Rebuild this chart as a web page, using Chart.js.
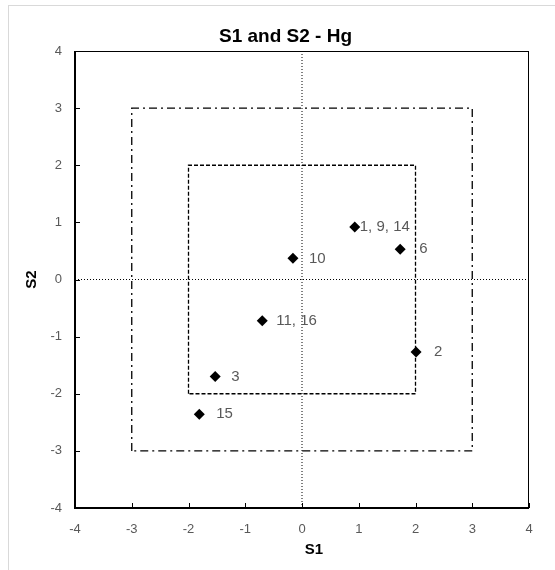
<!DOCTYPE html>
<html>
<head>
<meta charset="utf-8">
<script src="https://cdn.jsdelivr.net/npm/chart.js@4"></script>
<style>
  html, body { margin: 0; padding: 0; background: #fff; overflow: hidden; }
  #frame { position: absolute; left: 8px; top: 5px; width: 620px; height: 620px;
           border-left: 1px solid #d9d9d9; border-top: 1px solid #d9d9d9; }
  #chart { position: absolute; left: 0; top: 0; }
</style>
</head>
<body>
<div id="frame"><canvas id="chart" width="555" height="564"></canvas></div>
<script>
// ----------------------
// Data
// ----------------------
const chartTitle = "S1 and S2 - Hg";
const xTitle = "S1";
const yTitle = "S2";

const pointLabels = ["1, 9, 14", "6", "10", "11, 16", "2", "3", "15"];
const s1Values = [0.93, 1.73, -0.16, -0.70, 2.01, -1.53, -1.81];
const s2Values = [0.92, 0.53, 0.37, -0.72, -1.27, -1.70, -2.36];

// axis range and the two limit boxes
const axisRange = [-4, 4];
const innerLimit = 2;
const outerLimit = 3;

// gap (px) between each marker and its label
const labelDx = [5, 19, 16, 14, 18, 16, 17];

const fontFamily = "'Liberation Sans', Arial, sans-serif";

function squareOf(v) {
  return [
    { x: -v, y: -v }, { x: -v, y: v }, { x: v, y: v }, { x: v, y: -v }, { x: -v, y: -v }
  ];
}

// ----------------------
// Plugins
// ----------------------
const frameAndTicks = {
  id: "frameAndTicks",
  afterDatasetsDraw(chart) {
    const { ctx, chartArea: a, scales } = chart;
    ctx.save();
    ctx.strokeStyle = "#000";
    ctx.lineWidth = 1;
    ctx.strokeRect(a.left, a.top + 0.5, a.right - a.left - 0.5, a.bottom - a.top);
    ctx.lineWidth = 2;
    ctx.beginPath();
    ctx.moveTo(a.left, a.top);
    ctx.lineTo(a.left, a.bottom);
    ctx.lineTo(a.right, a.bottom);
    ctx.stroke();
    // small inside tick marks
    ctx.lineWidth = 1;
    ctx.beginPath();
    scales.x.ticks.forEach(t => {
      const px = Math.round(scales.x.getPixelForValue(t.value)) + 0.5;
      ctx.moveTo(px, a.bottom);
      ctx.lineTo(px, a.bottom - 5);
    });
    scales.y.ticks.forEach(t => {
      const py = Math.round(scales.y.getPixelForValue(t.value)) + 0.5;
      ctx.moveTo(a.left, py);
      ctx.lineTo(a.left + 5, py);
    });
    ctx.stroke();
    ctx.restore();
  }
};

const pointLabelPlugin = {
  id: "pointLabels",
  afterDatasetsDraw(chart) {
    const meta = chart.getDatasetMeta(0);
    const ctx = chart.ctx;
    ctx.save();
    ctx.font = "15px " + fontFamily;
    ctx.fillStyle = "#595959";
    ctx.textAlign = "left";
    ctx.textBaseline = "middle";
    meta.data.forEach((pt, i) => ctx.fillText(pointLabels[i], pt.x + labelDx[i], pt.y));
    ctx.restore();
  }
};

const axisTitles = {
  id: "axisTitles",
  afterDraw(chart) {
    const { ctx, chartArea: a } = chart;
    ctx.save();
    ctx.font = "bold 15px " + fontFamily;
    ctx.fillStyle = "#000";
    ctx.textAlign = "center";
    ctx.textBaseline = "middle";
    ctx.fillText(xTitle, (a.left + a.right) / 2 + 12, a.bottom + 41.5);
    ctx.translate(a.left - 43, (a.top + a.bottom) / 2);
    ctx.rotate(-Math.PI / 2);
    ctx.fillText(yTitle, 0, 0);
    ctx.restore();
  }
};

// ----------------------
// Chart
// ----------------------
const lineStyle = { showLine: true, fill: false, borderColor: "#000", pointRadius: 0, pointHoverRadius: 0 };

new Chart(document.getElementById("chart"), {
  type: "scatter",
  data: {
    datasets: [
      {
        data: s1Values.map((x, i) => ({ x, y: s2Values[i] })),
        pointStyle: "rectRot",
        pointRadius: 5.5,
        pointHoverRadius: 5.5,
        backgroundColor: "#000",
        borderColor: "#000",
        borderWidth: 0
      },
      Object.assign({ data: [{ x: 0, y: axisRange[0] }, { x: 0, y: axisRange[1] }],
        borderWidth: 1, borderDash: [1, 2] }, lineStyle),
      Object.assign({ data: [{ x: axisRange[0], y: 0 }, { x: axisRange[1], y: 0 }],
        borderWidth: 1, borderDash: [1, 2] }, lineStyle),
      Object.assign({ data: squareOf(innerLimit), borderWidth: 1.3, borderDash: [4, 2] }, lineStyle),
      Object.assign({ data: squareOf(outerLimit), borderWidth: 1.3, borderDash: [8, 4, 2, 4] }, lineStyle)
    ]
  },
  options: {
    responsive: false,
    animation: false,
    layout: { padding: { left: 33, right: 35, top: 0, bottom: 0 } },
    plugins: {
      legend: { display: false },
      tooltip: { enabled: false },
      title: {
        display: true,
        text: chartTitle,
        color: "#000",
        font: { family: fontFamily, size: 19, weight: "bold" },
        padding: { top: 19, bottom: 3.2 }
      }
    },
    scales: {
      x: {
        type: "linear",
        min: axisRange[0],
        max: axisRange[1],
        ticks: { stepSize: 1, color: "#595959", font: { family: fontFamily, size: 13 }, padding: 14 },
        grid: { display: false, drawTicks: false },
        border: { display: false },
        afterFit(scale) { scale.height = 62; }
      },
      y: {
        type: "linear",
        min: axisRange[0],
        max: axisRange[1],
        ticks: { stepSize: 1, color: "#595959", font: { family: fontFamily, size: 13 }, padding: 13 },
        grid: { display: false, drawTicks: false },
        border: { display: false },
        afterFit(scale) { scale.width = 33; }
      }
    }
  },
  plugins: [frameAndTicks, pointLabelPlugin, axisTitles]
});
</script>
</body>
</html>
